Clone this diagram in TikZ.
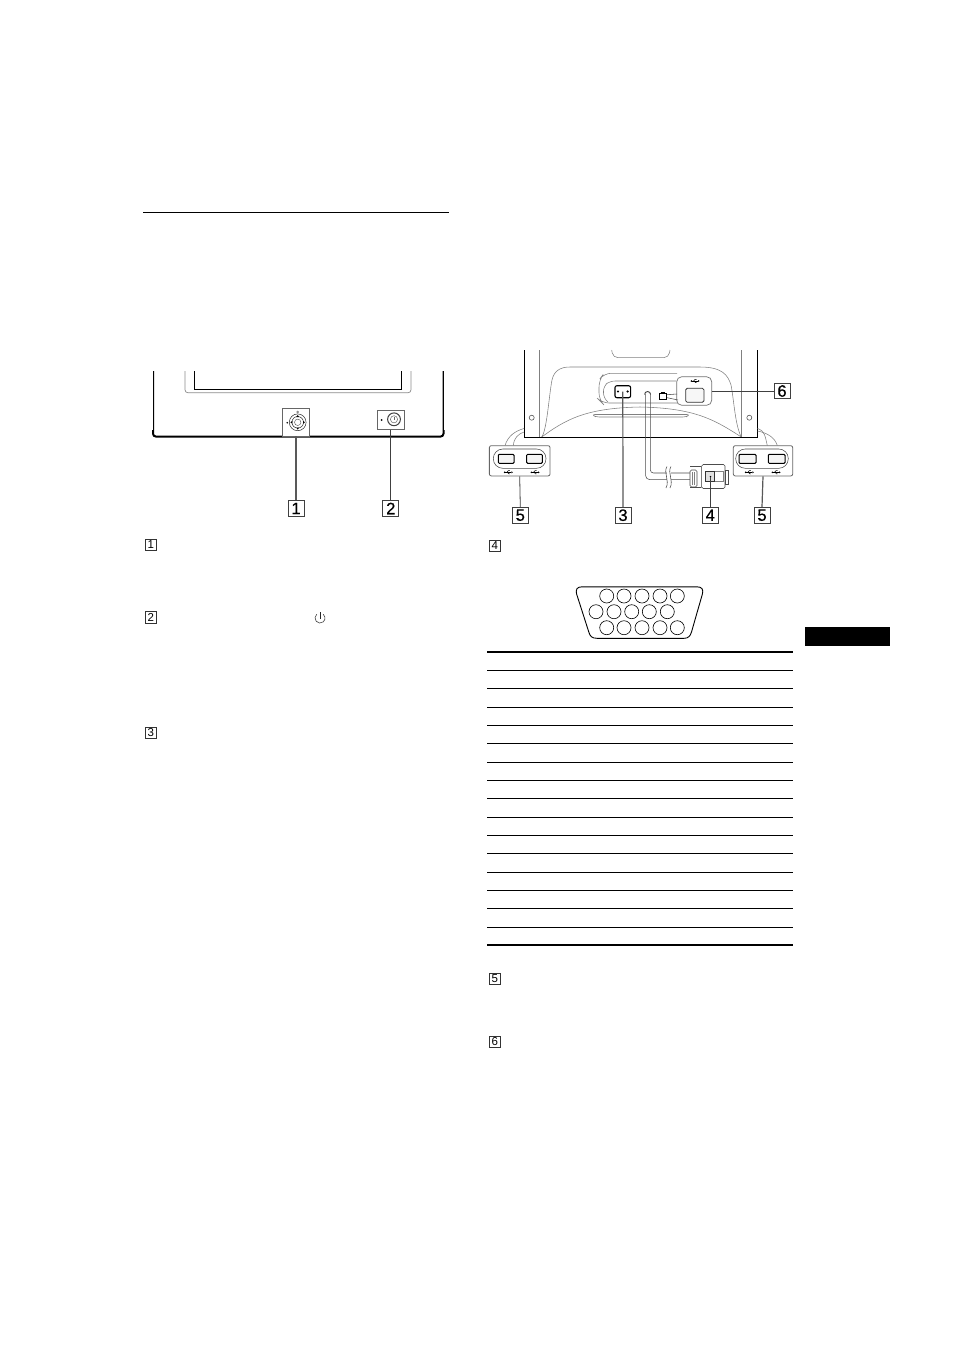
\documentclass[tikz,border=0pt]{standalone}
\usepackage{fontspec}
\setmainfont{Liberation Sans}
\newfontfamily\tagfont[FakeBold=0.5]{Liberation Sans}
\tikzset{
  x=1pt,y=-1pt,
  bigtag/.style={draw=black!75,line width=0.9pt,inner sep=0pt,minimum width=16pt,minimum height=15.5pt,font=\fontsize{16.5}{16.5}\selectfont\tagfont,fill=white},
  smalltag/.style={draw=black!80,line width=0.8pt,inner sep=0pt,minimum width=11.5pt,minimum height=11.5pt,font=\fontsize{11.5}{11.5}\selectfont,fill=white},
  leader/.style={black!75,line width=0.8pt},
  heavyleader/.style={black!65,line width=1.5pt},
  outline/.style={black,line width=1.5pt},
  grayline/.style={black!50,line width=0.55pt},
  thinline/.style={black!70,line width=0.55pt},
  panelbox/.style={draw=black!60,line width=0.8pt,inner sep=0pt,fill=white},
  tablerule/.style={black,line width=0.7pt},
  usbmark/.pic={
    \draw[black,line width=0.6pt] (-3.5,0) -- (3,0);
    \fill[black] (-3.6,0) circle (0.9);
    \fill[black] (3,-1) -- (4.6,0) -- (3,1) -- cycle;
    \draw[black,line width=0.5pt] (-1.5,0) -- (0,-1.6) -- (1.5,-1.6);
    \draw[black,line width=0.5pt] (-0.8,0) -- (0.4,1.5) -- (1.6,1.5);
  }
}
\begin{document}
\begin{tikzpicture}
\useasboundingbox[fill=white] (0,0) rectangle (954,1353);

% top rule and black tab
\draw[black,line width=0.9pt] (143,212.5) -- (449,212.5);
\fill[black] (805,627) rectangle (890,646);

% FRONT VIEW
\draw[black!45,line width=0.7pt,rounded corners=3pt] (185,371) -- (185,392.8) -- (411,392.8) -- (411,371);
\draw[black,line width=0.8pt] (194.5,371) -- (194.5,389.3) -- (401.5,389.3) -- (401.5,371);
\draw[black,line width=2pt,rounded corners=3pt] (153,371) -- (153,436.6) -- (443.5,436.6) -- (443.5,371);
\draw[white,line width=1.1pt] (152.3,370) -- (152.3,430);
\draw[white,line width=1.1pt] (444.2,370) -- (444.2,430);

\node[panelbox,minimum width=27.5pt,minimum height=28pt] (joy) at (296,422) {};
\node[panelbox,minimum width=27pt,minimum height=18.6pt] (pwr) at (390.8,420) {};
% joystick
\draw[black!85,line width=0.5pt] (297.7,422.3) circle (8.4);
\draw[black!85,line width=0.5pt] (297.7,422.3) circle (5.8);
\draw[black!70,line width=0.4pt] (297.7,422.3) circle (3.2);
\fill[black] (297.7,415) -- (296.3,417) -- (299.1,417) -- cycle;
\fill[black] (297.7,429.6) -- (296.3,427.6) -- (299.1,427.6) -- cycle;
\fill[black] (290.4,422.3) -- (292.4,420.9) -- (292.4,423.7) -- cycle;
\fill[black] (305,422.3) -- (303,420.9) -- (303,423.7) -- cycle;
\fill[black] (287.3,422.7) circle (0.9);
\draw[black!70,line width=0.4pt] (297.7,412) circle (1);
% power button
\fill[black] (381.7,420) circle (1);
\draw[black!75,line width=1pt] (394,419.3) circle (6.4);
\draw[black!60,line width=0.5pt] (394,419.3) circle (3.6);
\draw[black!60,line width=0.5pt] (394,417.3) -- (394,420);

\node[bigtag] (f1) at (296,508.5) {1};
\node[bigtag] (f2) at (390.8,508.5) {2};
\draw[heavyleader] (joy.south) -- (f1.north);
\draw[leader] (pwr.south) -- (f2.north);

% item tags, left column
\node[smalltag] (s1) at (150.7,545) {1};
\node[smalltag] (s2) at (150.7,617.3) {2};
\node[smalltag] (s3) at (150.7,732.7) {3};
\draw[black!75,line width=0.6pt] (316.8,614.2) arc[start angle=230,end angle=-50,radius=5];
\draw[black!85,line width=0.7pt] (320,612) -- (320,619);

% REAR VIEW
\draw[grayline,rounded corners=5pt] (611.7,350) -- (613,357.7) -- (668.7,357.7) -- (670,350);
\draw[grayline] (539.3,350) -- (539.3,437);
\draw[grayline] (741.3,350) -- (741.3,437);
\draw[grayline] (541.7,437) .. controls (547,430) and (549,395) .. (552,380)
   .. controls (554,371) and (560,367) .. (570,367) -- (700,367)
   .. controls (722,367) and (728,375) .. (731,385)
   .. controls (734,400) and (735,425) .. (741.3,437);
\draw[grayline] (541.7,437) .. controls (565,420) and (585,408) .. (640,407)
   .. controls (695,408) and (715,420) .. (741.3,437);
\draw[grayline,rounded corners=3pt] (591.7,414.5) -- (690,414.5) -- (686,417) -- (596,417) -- cycle;
\draw[grayline,rounded corners=7pt] (677,373.3) -- (604,373.3) -- (599,380) -- (599,400) -- (602,403) -- (680,403);
\draw[grayline,rounded corners=5pt] (676,381) -- (610,381) -- (603.5,386) -- (603.5,398) -- (608,402);

\draw[outline] (524.7,350) -- (524.7,437.6) -- (757.3,437.6) -- (757.3,350);

\draw[thinline] (531.7,417.7) circle (2.5);
\draw[thinline] (749.3,417.7) circle (2.5);

% power socket
\node[draw=black,line width=1.1pt,rounded corners=2pt,inner sep=0pt,minimum width=15.7pt,minimum height=12pt,fill=white] (socket) at (622.8,391.7) {};
\fill[black] (618,391.5) circle (1.2);
\fill[black] (627.6,391.5) circle (1.2);

% cable
\draw[black!75,line width=0.9pt] (644.6,394.5) arc[start angle=180,end angle=360,radius=3];
\draw[thinline,rounded corners=4pt] (645.6,394) -- (645.6,479.6) -- (690,479.6);
\draw[thinline,rounded corners=3pt] (650.4,394) -- (650.4,473) -- (690,473);
\fill[white] (667,470) rectangle (671,483);
\draw[thinline] (667,466.5) .. controls (663,473) and (670,480) .. (666,488);
\draw[thinline] (671,466.5) .. controls (667,473) and (674,480) .. (670,488);

% plug
\draw[thinline,fill=white,rounded corners=1.5pt] (690,470) rectangle (697,487);
\draw[thinline,rounded corners=1pt] (690,466.5) -- (702,466.5) -- (702,487.5) -- (690,487.5);
\draw[thinline,fill=white,rounded corners=1.5pt] (701.7,464.5) rectangle (725,488.5);
\draw[thinline,fill=white] (725,470) rectangle (728.3,484);
\draw[black!50,line width=0.5pt] (692,472) -- (692,485);
\draw[black!50,line width=0.5pt] (694,472) -- (694,485);
\node[draw=black!50,line width=0.5pt,inner sep=0pt,minimum width=17.3pt,minimum height=10pt,fill=white] (plug) at (714.3,476.7) {};
\fill[black!12] (705.7,471.7) rectangle (714,481.7);
\draw[black!80,line width=0.6pt] (705.7,471.7) rectangle (714,481.7);
\fill[black] (710.5,476.7) circle (0.9);

% small USB-B port and magnifier
\node[draw=black,line width=0.8pt,inner sep=0pt,minimum width=7.4pt,minimum height=6pt,fill=white] (ub) at (663,396.2) {};
\draw[black,line width=0.4pt] (660.5,392) -- (664.5,392);
\node[draw=black!55,line width=0.7pt,rounded corners=5pt,inner sep=0pt,minimum width=35pt,minimum height=28.5pt,fill=white] (mag) at (694.2,391) {};
\draw[thinline] (ub.east) ++(0,-1.5) -- (677,394);
\draw[thinline] (ub.east) ++(0,1.5) -- (678,400);
\node[draw=black!80,line width=0.8pt,rounded corners=1.5pt,inner sep=0pt,minimum width=18.3pt,minimum height=14pt,fill=black!3] (ubig) at (694.8,395.3) {};
\pic at (695,381) {usbmark};

% USB hubs
\draw[grayline] (505,445.5) .. controls (508,436) and (515,431) .. (524,428.5);
\draw[grayline] (513.3,445.5) .. controls (514,438) and (518,434) .. (524,432);
\draw[grayline] (767.3,445.5) .. controls (765,436) and (765,431) .. (757.5,428.5);
\draw[grayline] (777.3,445.5) .. controls (775,438) and (768,433) .. (757.5,431);

\node[panelbox,rounded corners=2pt,minimum width=60.7pt,minimum height=30.3pt] (hl) at (519.7,460.8) {};
\node[panelbox,rounded corners=2pt,minimum width=59.4pt,minimum height=30.3pt] (hr) at (763,460.8) {};
\draw[thinline,rounded corners=9.5pt] (493.3,449) rectangle (546,468.3);
\draw[thinline,rounded corners=9.5pt] (735.7,449) rectangle (788.3,468.3);
\draw[black,line width=1pt,rounded corners=1pt,fill=black!4] (498.3,454.3) rectangle (514,463.3);
\draw[black,line width=1pt,rounded corners=1pt,fill=black!4] (526.7,454.3) rectangle (542.3,463.3);
\draw[black,line width=1pt,rounded corners=1pt,fill=black!4] (739,454.3) rectangle (756,463.3);
\draw[black,line width=1pt,rounded corners=1pt,fill=black!4] (768.3,454.3) rectangle (785,463.3);
\pic at (508.3,472.3) {usbmark};
\pic at (535,472.3) {usbmark};
\pic at (749.3,472.3) {usbmark};
\pic at (776,472.3) {usbmark};

% big tags and leaders, rear
\node[bigtag] (r5a) at (520.3,515.2) {5};
\node[bigtag] (r3) at (623,515.2) {3};
\node[bigtag] (r4) at (710.3,515.2) {4};
\node[bigtag] (r5b) at (762,515.2) {5};
\node[bigtag] (r6) at (782,391) {6};
\draw[leader] (hl.south) -- (r5a.north);
\draw[heavyleader,line width=1.2pt] (socket.center) -- (r3.north);
\draw[leader] (plug.center -| r4.north) -- (r4.north);
\draw[heavyleader,line width=1.2pt] (hr.south) -- (r5b.north);
\draw[leader] (mag.east) -- (r6.west);

% item tags, right column
\node[smalltag] (s4) at (494.7,545.7) {4};
\node[smalltag] (s5) at (494.7,979) {5};
\node[smalltag] (s6) at (494.7,1042) {6};

% D-sub 15 connector
\draw[black,line width=0.9pt] (582,586.8) -- (697,586.8)
  .. controls (702,586.8) and (703.6,589.5) .. (702.4,594)
  -- (691.5,632) .. controls (690.3,636.3) and (688,638.3) .. (684,638.3)
  -- (597,638.3) .. controls (592,638.3) and (590,636.3) .. (588.8,632)
  -- (576.6,594) .. controls (575.4,589.5) and (577,586.8) .. (582,586.8) -- cycle;
\foreach \px in {606.7,624,642,660,677.3} {
  \draw[black,line width=0.6pt] (\px,596) circle (7);
  \draw[black,line width=0.6pt] (\px,627.7) circle (7);
}
\foreach \px in {596,614,631.7,649.3,667.3} {
  \draw[black,line width=0.6pt] (\px,611.7) circle (7);
}

% table rules
\draw[black,line width=1.4pt] (487,652) -- (792.5,652);
\foreach \ry in {670,688,707,725,743.5,762,780,798.5,817,835,853,872,890,908,927} {
  \draw[tablerule] (487,\ry) -- (792.5,\ry);
}
\draw[black,line width=2.8pt] (487,945) -- (792.5,945);
\end{tikzpicture}
\end{document}
